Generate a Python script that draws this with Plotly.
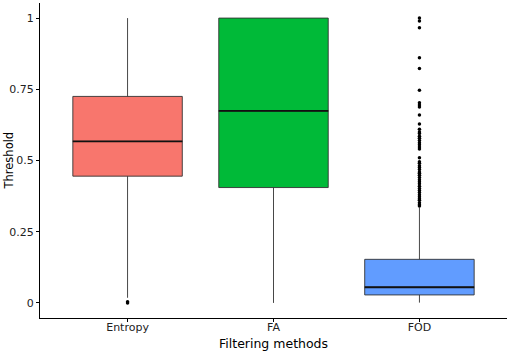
import plotly.graph_objects as go

categories = ["Entropy", "FA", "FOD"]
colors = ["#F8766D", "#00BA38", "#619CFF"]
q1 = [0.445, 0.405, 0.028]
median = [0.567, 0.674, 0.055]
q3 = [0.725, 1.0, 0.153]
lower_whisker = [0.018, 0.0, 0.001]
upper_whisker = [1.0, 1.0, 0.335]

entropy_outliers = [0.0, 0.004]
fa_outliers = []
fod_outliers = [1.0, 0.99, 0.966, 0.861, 0.823, 0.747, 0.703, 0.695, 0.688, 0.66, 0.628,
                0.61, 0.60, 0.595, 0.585, 0.578, 0.57, 0.562, 0.555, 0.547, 0.54,
                0.51, 0.496, 0.49, 0.482, 0.475, 0.468, 0.46, 0.455, 0.448, 0.44,
                0.432, 0.425, 0.418, 0.41, 0.402, 0.395, 0.388, 0.38, 0.373, 0.366,
                0.36, 0.352, 0.345, 0.34]
outliers = [entropy_outliers, fa_outliers, fod_outliers]

box_width = 0.75
fig = go.Figure()
for i, cat in enumerate(categories):
    fig.add_trace(go.Box(
        x=[i], q1=[q1[i]], median=[median[i]], q3=[q3[i]],
        lowerfence=[lower_whisker[i]], upperfence=[upper_whisker[i]],
        width=box_width, fillcolor=colors[i], whiskerwidth=0,
        line=dict(color="#333333", width=0.9),
        boxpoints=False, name=cat, showlegend=False, hoverinfo="skip",
    ))
    fig.add_trace(go.Scatter(
        x=[i - box_width / 2, i + box_width / 2], y=[median[i], median[i]],
        mode="lines", line=dict(color="#111111", width=1.8),
        showlegend=False, hoverinfo="skip",
    ))
    if outliers[i]:
        fig.add_trace(go.Scatter(
            x=[i] * len(outliers[i]), y=outliers[i], mode="markers",
            marker=dict(color="black", size=3.5),
            showlegend=False, hoverinfo="skip",
        ))

font = "DejaVu Sans, Verdana, sans-serif"
W, H = 510, 354
ml, mr, mt, mb = 40, 3, 3, 36
pw, ph = W - ml - mr, H - mt - mb
fig.update_layout(
    width=W, height=H,
    margin=dict(l=ml, r=mr, t=mt, b=mb, autoexpand=False),
    plot_bgcolor="white", paper_bgcolor="white",
    font=dict(family=font, color="black"),
    showlegend=False,
    annotations=[
        dict(text="Filtering methods", xref="paper", yref="paper",
             x=0.5, y=-25 / ph, xanchor="center", yanchor="middle",
             showarrow=False, font=dict(size=12.5, family=font, color="black")),
        dict(text="Threshold", xref="paper", yref="paper",
             x=-32 / pw, y=0.5, xanchor="center", yanchor="middle", textangle=-90,
             showarrow=False, font=dict(size=11.5, family=font, color="black")),
    ],
)
fig.update_xaxes(
    range=[-0.6, 2.6], tickmode="array", tickvals=[0, 1, 2], ticktext=categories,
    showline=True, linecolor="black", linewidth=1.2, showgrid=False, zeroline=False,
    ticks="outside", ticklen=3, tickcolor="black", tickwidth=1, automargin=False,
    ticklabelstandoff=-4,
    tickfont=dict(size=11, family=font, color="#222"),
)
fig.update_yaxes(
    range=[-0.053, 1.053], tickmode="array", tickvals=[0, 0.25, 0.5, 0.75, 1],
    ticktext=["0", "0.25", "0.5", "0.75", "1"],
    showline=True, linecolor="black", linewidth=1.2, showgrid=False, zeroline=False,
    ticks="outside", ticklen=3, tickcolor="black", tickwidth=1, automargin=False,
    tickfont=dict(size=11, family=font, color="#222"),
)
fig.write_html("out.html", config={"displayModeBar": False},
               post_script="document.body.style.margin='0';document.body.style.overflow='hidden';")
